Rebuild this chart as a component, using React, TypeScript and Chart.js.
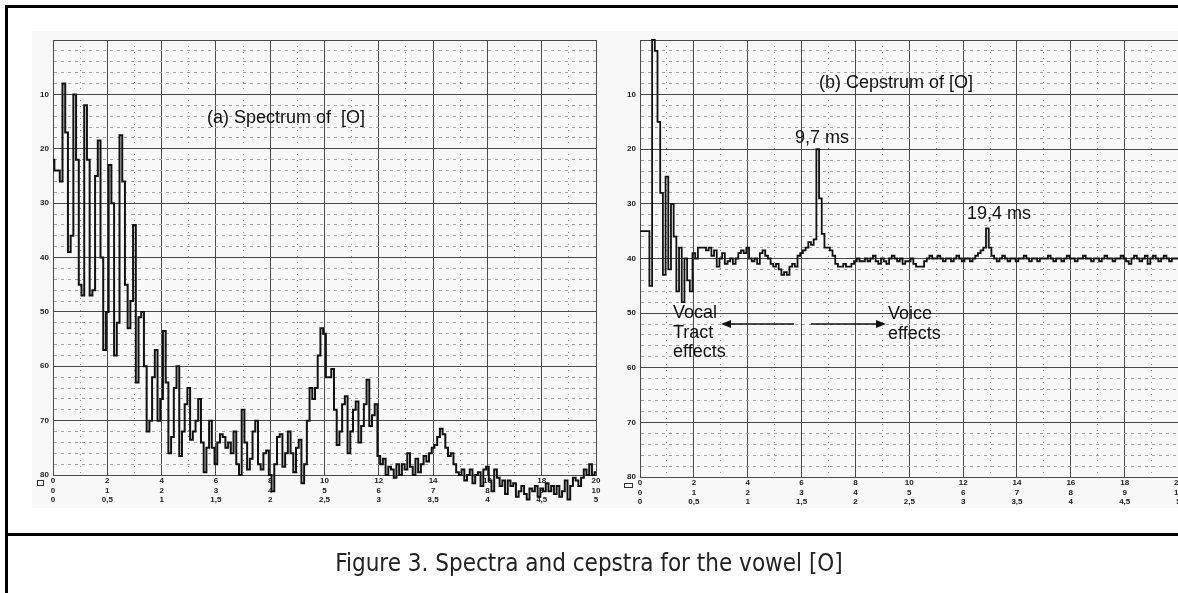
import React, { useEffect, useRef } from "react";
import { Chart, registerables } from "chart.js";

Chart.register(...registerables);

// spacing between samples on the chart-paper x axis (major line every 2 units)
const SAMPLE_STEP = 0.1;

// (a) Spectrum of [O] – level, one value per 0.1 x-unit (0 … 20)
const spectrumDb: number[] = [
  22, 24, 24, 26, 8, 17, 39, 36, 10, 22,
  45, 47, 12, 22, 47, 46, 25, 18.5, 40, 57,
  50, 23, 30, 58, 52, 17.5, 26, 45, 53, 48,
  34, 63, 51, 50, 60, 72, 70, 62, 57, 70,
  66, 53.5, 63, 76, 73, 64, 60, 76.5, 72, 67,
  64, 73.5, 72, 70, 66, 74, 79.5, 75, 70, 75,
  78, 74, 72.5, 73, 75, 74, 76, 72, 78, 80,
  68, 74, 79, 77, 72, 70, 78, 79, 76, 75.5,
  80, 83, 78, 73, 72.5, 78.5, 76, 72, 76, 79.5,
  75, 73.5, 81.5, 78, 70, 64, 66, 64, 58, 53,
  54, 62, 62, 60.5, 68, 74.5, 72, 67, 65.5, 76,
  72, 68, 66.5, 74, 71, 67, 62.5, 71, 69, 67,
  76.5, 78, 77, 80, 78.5, 79, 80.5, 78, 80, 78,
  79, 76, 78.5, 80, 77, 79.5, 78, 76.5, 77.5, 76,
  75, 74.5, 73, 71.5, 72.5, 75, 76.5, 76, 78, 79.5,
  80, 79, 81, 80, 79, 81.5, 80, 79.5, 82, 79,
  78.5, 81, 83, 79, 80.5, 82, 81, 83.5, 81, 82,
  81.5, 84, 83, 82, 83.5, 84.5, 82.5, 83, 82, 84,
  82.5, 83, 81.5, 83, 82, 83.5, 82, 84, 83, 81,
  84.5, 82, 80.5, 81, 82, 80.5, 79, 80, 78, 80,
  79.5,
];

// (b) Cepstrum of [O] – one value per 0.1 x-unit (0 … 20)
const cepstrumVals: number[] = [
  35, 35, 35, 35, 45, 0, 2, 15, 28, 43,
  25, 42, 30, 36, 46, 38, 48, 40, 44, 46,
  39, 40, 38, 38, 38, 38.5, 38, 39.5, 38.5, 41.5,
  40, 39, 41, 40.5, 40, 41, 40, 39, 38.5, 39,
  38, 40, 40.5, 40, 41, 39, 38.5, 39.5, 40, 41,
  41.5, 41, 42, 43, 42.5, 43, 41.5, 41, 41.5, 39.5,
  39, 38.5, 38, 37, 37.5, 36.5, 20, 29, 35.5, 38,
  38, 38.5, 39.5, 41, 41.5, 41.5, 41, 41.5, 41.5, 41,
  40.5, 40, 40.5, 40.5, 40, 40.5, 40, 39.5, 40.5, 41,
  40, 40.5, 41, 40, 39.5, 40, 40.5, 40, 41, 40.5,
  40.5, 40, 41, 41.5, 41.5, 41.5, 40.5, 40, 39.5, 40,
  40, 39.5, 40, 40.5, 40, 40, 40.5, 40, 39.5, 40,
  40.5, 40, 40, 40.5, 40, 39.5, 39, 38.5, 38, 34.5,
  38, 39.5, 40, 40.5, 40, 39.5, 40, 40.5, 40, 40,
  40.5, 40, 40, 39.5, 40, 40.5, 40, 40, 40.5, 40,
  40, 40, 39.5, 40, 40.5, 40, 40, 40.5, 40, 39.5,
  40, 40, 40.5, 40, 40, 39.5, 40, 40, 40.5, 40,
  40, 40.5, 40, 39.5, 40, 40, 40.5, 40, 40, 39.5,
  40, 40.5, 41, 40, 39.5, 40, 40.5, 40, 39.5, 41,
  40, 39.5, 40, 40.5, 40, 39.5, 40, 40.5, 40, 40,
  40,
];

const yTickLabels = ["10", "20", "30", "40", "50", "60", "70", "80"];
const xTickRow1 = ["0", "2", "4", "6", "8", "10", "12", "14", "16", "18", "20"];
const xTickRow2 = ["0", "1", "2", "3", "4", "5", "6", "7", "8", "9", "10"];
const xTickRow3 = ["0", "0,5", "1", "1,5", "2", "2,5", "3", "3,5", "4", "4,5", "5"];

const TICK_FONT = { family: "'Liberation Sans', Arial, sans-serif", size: 8, weight: "bold" as const };
const MAJOR = "#4a4a4a";
const MINOR_X = "#8c8c8c";
const MINOR_Y = "#a2a2a2";

function buildConfig(values: number[], yAxisWidth: number, padRight: number, lineWidth: number) {
  const points = values.map((v, i) => ({ x: Math.round(i * SAMPLE_STEP * 10) / 10, y: v }));
  return {
    type: "line",
    data: {
      datasets: [
        {
          data: points,
          borderColor: "#111",
          borderWidth: lineWidth,
          pointRadius: 0,
          stepped: "middle",
          fill: false,
          clip: false,
        },
      ],
    },
    options: {
      animation: false,
      responsive: false,
      maintainAspectRatio: false,
      events: [],
      layout: { padding: { top: 10, right: padRight, left: 0, bottom: 0 } },
      plugins: { legend: { display: false }, tooltip: { enabled: false } },
      scales: {
        x: {
          type: "linear",
          min: 0,
          max: 20,
          afterFit: (s: any) => {
            s.height = 35;
          },
          ticks: {
            stepSize: 1,
            autoSkip: false,
            maxRotation: 0,
            minRotation: 0,
            padding: 1,
            color: "#222",
            font: TICK_FONT,
            callback: (v: any) => {
              const n = Math.round(Number(v));
              if (n % 2 !== 0) return "";
              const k = n / 2;
              return [xTickRow1[k], xTickRow2[k], xTickRow3[k]];
            },
          },
          grid: {
            drawTicks: false,
            color: (c: any) => (c.tick && Math.round(c.tick.value) % 2 !== 0 ? MINOR_X : MAJOR),
            lineWidth: 1,
          },
          border: {
            display: true,
            color: MAJOR,
            width: 1,
            dash: (c: any) => (c.tick && Math.round(c.tick.value) % 2 !== 0 ? [1, 5] : []),
          },
        },
        y: {
          type: "linear",
          reverse: true,
          min: 0,
          max: 80,
          afterFit: (s: any) => {
            s.width = yAxisWidth;
          },
          ticks: {
            stepSize: 2,
            autoSkip: false,
            padding: 4,
            color: "#222",
            font: TICK_FONT,
            callback: (v: any) => {
              const n = Math.round(Number(v));
              if (n === 0 || n % 10 !== 0) return "";
              return yTickLabels[n / 10 - 1];
            },
          },
          grid: {
            drawTicks: false,
            color: (c: any) => (c.tick && Math.round(c.tick.value) % 10 !== 0 ? MINOR_Y : MAJOR),
            lineWidth: 1,
          },
          border: {
            display: true,
            color: MAJOR,
            width: 1,
            dash: (c: any) => (c.tick && Math.round(c.tick.value) % 10 !== 0 ? [3, 4] : []),
          },
        },
      },
    },
  };
}

type PanelProps = {
  values: number[];
  left: number;
  top: number;
  width: number;
  height: number;
  yAxisWidth: number;
  padRight: number;
  lineWidth: number;
};

function Panel({ values, left, top, width, height, yAxisWidth, padRight, lineWidth }: PanelProps) {
  const ref = useRef<HTMLCanvasElement | null>(null);
  useEffect(() => {
    if (!ref.current) return;
    const chart = new Chart(ref.current, buildConfig(values, yAxisWidth, padRight, lineWidth) as any);
    return () => chart.destroy();
  }, [values, yAxisWidth, padRight, lineWidth]);
  return (
    <canvas
      ref={ref}
      width={width}
      height={height}
      style={{ position: "absolute", left, top, width, height }}
    />
  );
}

const labelStyle: React.CSSProperties = {
  position: "absolute",
  fontFamily: "'Liberation Sans', Arial, sans-serif",
  fontSize: 18,
  lineHeight: "20px",
  color: "#111",
  whiteSpace: "pre",
};

export default function App() {
  useEffect(() => {
    document.body.style.margin = "0";
    document.body.style.overflow = "hidden";
  }, []);
  return (
    <div
      style={{
        position: "fixed",
        left: 0,
        top: 0,
        width: 1178,
        height: 593,
        overflow: "hidden",
        background: "#fff",
      }}
    >
      {/* scanned-paper tint */}
      <div style={{ position: "absolute", left: 32, top: 31, width: 1146, height: 477, background: "#f8f8f8" }} />

      <Panel values={spectrumDb} left={10} top={30} width={596} height={480} yAxisWidth={43} padRight={10} lineWidth={2} />
      <Panel values={cepstrumVals} left={600} top={30} width={584} height={482} yAxisWidth={40} padRight={0} lineWidth={1.8} />

      {/* small bracket marks under the axes */}
      <div style={{ position: "absolute", left: 37, top: 480, width: 5, height: 4, border: "1px solid #333" }} />
      <div style={{ position: "absolute", left: 624, top: 483, width: 7, height: 3, border: "1px solid #333" }} />

      <div style={{ ...labelStyle, left: 207, top: 107 }}>{"(a) Spectrum of  [O]"}</div>
      <div style={{ ...labelStyle, left: 819, top: 72 }}>{"(b) Cepstrum of [O]"}</div>
      <div style={{ ...labelStyle, left: 795, top: 127 }}>{"9,7 ms"}</div>
      <div style={{ ...labelStyle, left: 967, top: 203 }}>{"19,4 ms"}</div>
      <div style={{ ...labelStyle, left: 673, top: 303, lineHeight: "19.5px" }}>{"Vocal\nTract\neffects"}</div>
      <div style={{ ...labelStyle, left: 888, top: 303, lineHeight: "20px" }}>{"Voice\neffects"}</div>

      <svg
        width={1178}
        height={593}
        style={{ position: "absolute", left: 0, top: 0, pointerEvents: "none" }}
      >
        <line x1={794} y1={324} x2={728} y2={324} stroke="#111" strokeWidth={1.5} />
        <polygon points="721,324 731,320 731,328" fill="#111" />
        <line x1={811} y1={324} x2={879} y2={324} stroke="#111" strokeWidth={1.5} />
        <polygon points="886,324 876,320 876,328" fill="#111" />
      </svg>

      {/* frame */}
      <div style={{ position: "absolute", left: 5, top: 5, width: 1173, height: 3, background: "#000" }} />
      <div style={{ position: "absolute", left: 5, top: 5, width: 3, height: 588, background: "#000" }} />
      <div style={{ position: "absolute", left: 5, top: 533, width: 1173, height: 3, background: "#000" }} />

      <div
        style={{
          position: "absolute",
          left: 0,
          top: 549,
          width: 1178,
          textAlign: "center",
          fontFamily: "'Liberation Sans Narrow', 'DejaVu Sans Condensed', Arial, sans-serif",
          fontSize: 24,
          lineHeight: "28px",
          color: "#222",
        }}
      >
        Figure 3. Spectra and cepstra for the vowel [O]
      </div>
    </div>
  );
}
